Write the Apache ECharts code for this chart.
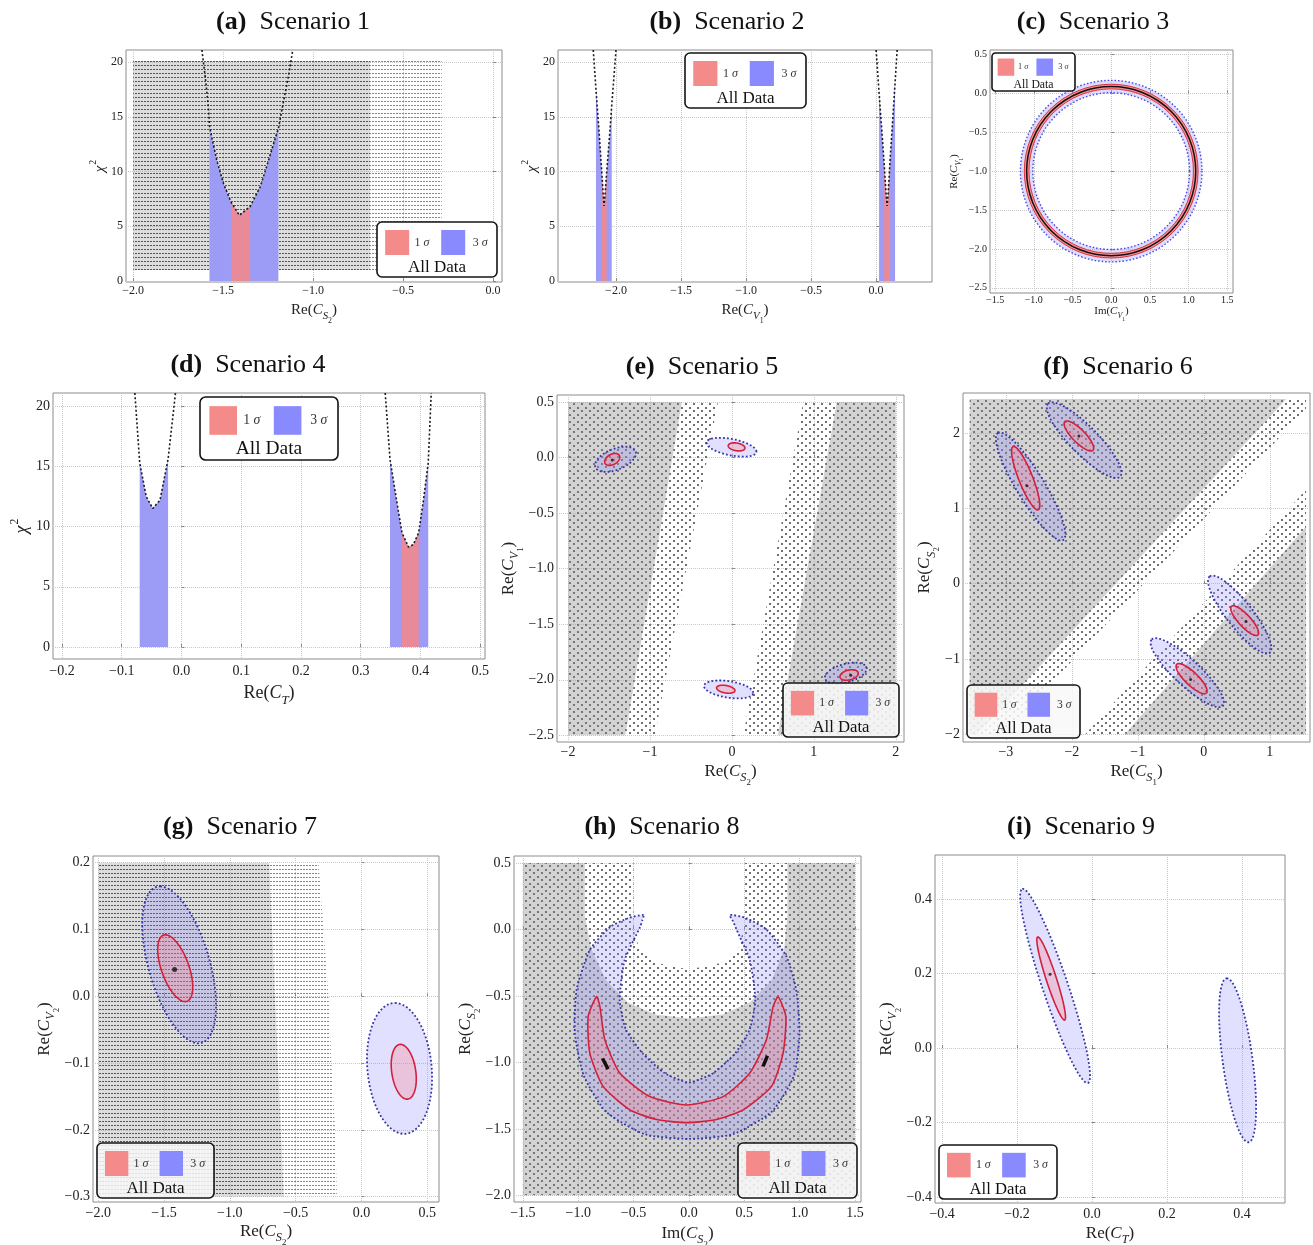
<!DOCTYPE html>
<html><head><meta charset="utf-8"><title>Scenarios 1-9</title>
<script src="https://cdn.jsdelivr.net/npm/echarts@6.0.0/dist/echarts.min.js"></script>
<style>html,body{margin:0;padding:0;background:#fff;}#chart{width:1313px;height:1245px;}</style>
</head><body><div id="chart"></div>
<script>
// ======================= DATA =======================
// (a) Scenario 1 : chi^2 vs Re(C_S2)
const aXTicks = [-2, -1.5, -1, -0.5, 0];
const aYTicks = [0, 5, 10, 15, 20];
const aChiCurve = [[-1.618,21.1],[-1.60,18.7],[-1.582,15.9],[-1.576,14.2],[-1.568,13.5],[-1.535,11.0],[-1.498,8.9],[-1.456,7.2],[-1.41,6.0],[-1.35,6.8],[-1.294,8.6],[-1.248,11.0],[-1.202,13.5],[-1.193,13.9],[-1.174,15.6],[-1.137,18.7],[-1.113,21.1]];
const aBand3 = [-1.576, -1.193];
const aBand1 = [-1.456, -1.35];
const aDenseRegion = [[-2.0,1.0],[-0.683,1.0],[-0.683,20.1],[-2.0,20.1]];
const aSparseRegion = [[-0.683,1.0],[-0.285,1.0],[-0.285,20.1],[-0.683,20.1]];

// (b) Scenario 2 : chi^2 vs Re(C_V1)
const bXTicks = [-2, -1.5, -1, -0.5, 0];
const bYTicks = [0, 5, 10, 15, 20];
const bChiLeft = [[-2.175,21.1],[-2.154,17.5],[-2.13,13.6],[-2.113,10.6],[-2.10,8.2],[-2.092,6.85],[-2.084,7.9],[-2.072,9.9],[-2.05,13.2],[-2.033,16.0],[-2.0,21.1]];
const bChiRight = [[0.0,21.1],[0.023,17.2],[0.045,13.6],[0.062,10.7],[0.077,8.0],[0.085,6.85],[0.093,8.0],[0.108,11.1],[0.125,14.2],[0.146,18.1],[0.162,21.1]];
const bBand3Left = [-2.154, -2.033];
const bBand1Left = [-2.113, -2.072];
const bBand3Right = [0.023, 0.146];
const bBand1Right = [0.062, 0.108];

// (c) Scenario 3 : Re(C_V1) vs Im(C_V1)
const cXTicks = [-1.5, -1, -0.5, 0, 0.5, 1, 1.5];
const cYTicks = [-2.5, -2, -1.5, -1, -0.5, 0, 0.5];
const cCenter = [0, -1.0];
const cBestRadius = 1.09;
const cRing1 = [1.06, 1.12];
const cRing3 = [1.01, 1.17];

// (d) Scenario 4 : chi^2 vs Re(C_T)
const dXTicks = [-0.2, -0.1, 0, 0.1, 0.2, 0.3, 0.4, 0.5];
const dYTicks = [0, 5, 10, 15, 20];
const dChiLeft = [[-0.078,21.1],[-0.0699,15.3],[-0.059,12.5],[-0.048,11.5],[-0.036,12.2],[-0.0224,15.6],[-0.01,21.1]];
const dChiRight = [[0.341,21.1],[0.349,15.6],[0.36,12.2],[0.369,9.5],[0.38,8.3],[0.388,8.5],[0.397,9.5],[0.405,12.2],[0.413,15.3],[0.418,21.1]];
const dBand3Left = [-0.0699, -0.0224];
const dBand3Right = [0.349, 0.413];
const dBand1Right = [0.369, 0.397];

// (e) Scenario 5 : Re(C_V1) vs Re(C_S2)
const eXTicks = [-2, -1, 0, 1, 2];
const eYTicks = [-2.5, -2, -1.5, -1, -0.5, 0, 0.5];
const eDenseLeft = [[-2,0.5],[-0.61,0.5],[-1.3,-2.5],[-2,-2.5]];
const eSparseLeft = [[-0.61,0.5],[-0.17,0.5],[-0.94,-2.5],[-1.3,-2.5]];
const eSparseRight = [[0.87,0.5],[1.28,0.5],[0.56,-2.5],[0.14,-2.5]];
const eDenseRight = [[1.28,0.5],[2,0.5],[2,-2.5],[0.56,-2.5]];
// ellipses: [cx, cy, ux, uy, vx, vy] (centre + two conjugate half-axis vectors)
const eEll3 = [[-1.42,-0.016,0.25,0.054,0,0.1],[-0.005,0.093,0.305,-0.04,0,0.075],[-0.04,-2.087,0.3,-0.03,0,0.075],[1.39,-1.94,0.255,0.04,0,0.085]];
const eEll1 = [[-1.46,-0.017,0.092,0.02,0,0.05],[0.057,0.096,0.102,-0.01,0,0.035],[-0.075,-2.085,0.112,-0.012,0,0.034],[1.43,-1.957,0.112,0.015,0,0.045]];
const eBest = [[-1.46,-0.022],[1.45,-1.96]];

// (f) Scenario 6 : Re(C_S2) vs Re(C_S1)
const fXTicks = [-3, -2, -1, 0, 1];
const fYTicks = [-2, -1, 0, 1, 2];
const fDenseUpper = [[-3.55,2.45],[1.25,2.45],[-3.44,-2.0],[-3.55,-2.0]];
const fSparseUpper = [[1.25,2.45],[1.55,2.45],[1.55,2.32],[-3.03,-2.0],[-3.44,-2.0]];
const fSparseLower = [[-1.8,-2.0],[1.55,1.25],[1.55,0.76],[-1.2,-2.0]];
const fDenseLower = [[-1.2,-2.0],[1.55,0.76],[1.55,-2.0]];
const fEll3 = [[-1.815,1.905,-0.545,0.485,0.151,0.13],[-2.625,1.29,-0.495,0.71,0.18,0.097],[0.545,-0.41,-0.455,0.507,0.155,0.106],[-0.25,-1.18,-0.54,0.44,0.134,0.126]];
const fEll1 = [[-1.893,1.96,-0.213,0.19,0.07,0.06],[-2.7,1.4,-0.19,0.42,0.098,0.034],[0.62,-0.49,-0.2,0.19,0.067,0.054],[-0.185,-1.26,-0.225,0.19,0.068,0.062]];
const fBest = [[-1.893,1.96],[-2.68,1.3],[0.64,-0.5],[-0.2,-1.27]];

// (g) Scenario 7 : Re(C_V2) vs Re(C_S2)
const gXTicks = [-2, -1.5, -1, -0.5, 0, 0.5];
const gYTicks = [-0.3, -0.2, -0.1, 0, 0.1, 0.2];
const gDenseRegion = [[-2,0.2],[-0.70,0.2],[-0.59,-0.3],[-2,-0.3]];
const gSparseRegion = [[-0.70,0.2],[-0.326,0.2],[-0.288,0.1],[-0.25,0.0],[-0.228,-0.1],[-0.2,-0.2],[-0.186,-0.3],[-0.59,-0.3]];
const gEll3 = [[-1.385,0.047,-0.145,0.1175,0.24,0],[0.29,-0.108,-0.035,0.098,0.245,0]];
const gEll1 = [[-1.415,0.042,-0.075,0.05,0.11,0],[0.322,-0.113,-0.025,0.041,0.092,0]];
const gBest = [[-1.42,0.04]];

// (h) Scenario 8 : Re(C_S2) vs Im(C_S2)
const hXTicks = [-1.5, -1, -0.5, 0, 0.5, 1, 1.5];
const hYTicks = [-2, -1.5, -1, -0.5, 0, 0.5];
const hFrameRegion = [[-1.5,0.5],[-1.5,-2],[1.5,-2],[1.5,0.5]];
const hUOuter = [[-0.94,0.5],[-0.94,0.1],[-0.88,-0.15],[-0.75,-0.38],[-0.55,-0.55],[-0.3,-0.64],[0,-0.67],[0.3,-0.64],[0.55,-0.55],[0.75,-0.38],[0.86,-0.15],[0.89,0.1],[0.89,0.5]];
const hUInner = [[-0.5,0.5],[-0.5,0.0],[-0.45,-0.14],[-0.3,-0.25],[0,-0.3],[0.3,-0.25],[0.45,-0.14],[0.49,0.0],[0.49,0.5]];
const hBand3 = [[-0.41,0.11],[-0.55,0.085],[-0.71,0.02],[-0.895,-0.154],[-1.015,-0.455],[-1.03,-0.78],[-0.95,-1.1],[-0.75,-1.37],[-0.4,-1.54],[0,-1.575],[0.4,-1.54],[0.75,-1.37],[0.95,-1.1],[1.0,-0.78],[0.97,-0.455],[0.88,-0.2],[0.70,0.0],[0.52,0.085],[0.37,0.11],
  [0.40,0.06],[0.43,0.0],[0.55,-0.23],[0.6,-0.53],[0.55,-0.75],[0.42,-0.93],[0.22,-1.08],[0,-1.15],[-0.22,-1.08],[-0.42,-0.93],[-0.57,-0.75],[-0.625,-0.53],[-0.58,-0.23],[-0.44,0.02],[-0.42,0.07]];
const hBand1 = [[-0.834,-0.505],[-0.91,-0.655],[-0.895,-0.93],[-0.775,-1.18],[-0.533,-1.357],[-0.29,-1.43],[-0.02,-1.453],[0.25,-1.43],[0.49,-1.357],[0.747,-1.18],[0.851,-0.93],[0.876,-0.655],[0.806,-0.505],
  [0.761,-0.58],[0.70,-0.83],[0.55,-1.08],[0.31,-1.257],[-0.02,-1.32],[-0.353,-1.257],[-0.624,-1.08],[-0.759,-0.83],[-0.804,-0.58]];
const hBest = [[-0.78,-0.97,-0.73,-1.05],[0.67,-1.03,0.71,-0.95]];

// (i) Scenario 9 : Re(C_V2) vs Re(C_T)
const iXTicks = [-0.4, -0.2, 0, 0.2, 0.4];
const iYTicks = [-0.4, -0.2, 0, 0.2, 0.4];
const iEll3 = [[-0.0985,0.1665,-0.0875,0.2605,0.0322,0.0108],[0.3885,-0.033,-0.0295,0.22,0.0396,0.0053]];
const iEll1 = [[-0.109,0.1865,-0.036,0.1115,0.0129,0.0042]];
const iBest = [[-0.112,0.198]];

// ======================= STYLE / LAYOUT =======================
const FONT = '"Liberation Serif","Times New Roman","DejaVu Serif",serif';
const LEG_RED = '#f58a8a', LEG_BLUE = '#8a8aff';
const BAND_BLUE = '#9c9cf6', BAND_RED = '#e88a98';
const S3 = {fill: 'rgba(135,135,255,0.25)', stroke: '#3434a6', lineWidth: 1.8, lineDash: [1.8, 2.2]};
const S1 = {fill: 'rgba(255,120,130,0.28)', stroke: '#d61f3a', lineWidth: 1.6};

const RE_CS2 = '{n|Re(}{i|C}{s|S}{ss|2}{n|)}';
const RE_CS1 = '{n|Re(}{i|C}{s|S}{ss|1}{n|)}';
const RE_CV1 = '{n|Re(}{i|C}{s|V}{ss|1}{n|)}';
const RE_CV2 = '{n|Re(}{i|C}{s|V}{ss|2}{n|)}';
const IM_CV1 = '{n|Im(}{i|C}{s|V}{ss|1}{n|)}';
const IM_CS2 = '{n|Im(}{i|C}{s|S}{ss|2}{n|)}';
const RE_CT = '{n|Re(}{i|C}{s|T}{n|)}';
const CHI = '{i|χ}{sup|2}';

const PANELS = [
  {box:[126,50,376,232], xr:[-2.04,0.05], yr:[-0.09,21.1], xt:aXTicks, yt:aYTicks, xd:1, yd:0, lfs:12, xm:3, ym:3, nfs:15, xn:RE_CS2, yn:CHI, xg:17, yg:17, title:['(a)','Scenario 1'], tc:[293,22], leg:[377,222,120,55], legBg:'#ffffff'},
  {box:[558,50,374,232], xr:[-2.446,0.43], yr:[-0.09,21.1], xt:bXTicks, yt:bYTicks, xd:1, yd:0, lfs:12, xm:3, ym:3, nfs:15, xn:RE_CV1, yn:CHI, xg:17, yg:14, title:['(b)','Scenario 2'], tc:[727,22], leg:[685,53,121,55], legBg:'#ffffff'},
  {box:[990,50,243,243], xr:[-1.566,1.574], yr:[-2.567,0.557], xt:cXTicks, yt:cYTicks, xd:1, yd:1, lfs:10, xm:2, ym:3, nfs:11, xn:IM_CV1, yn:RE_CV1, xg:10, yg:21, title:['(c)','Scenario 3'], tc:[1093,22], leg:[992,53,83,38], legBg:'#ffffff'},
  {box:[53,393,432,266], xr:[-0.215,0.508], yr:[-1.0,21.1], xt:dXTicks, yt:dYTicks, xd:1, yd:0, lfs:14, xm:5, ym:3, nfs:18, xn:RE_CT, yn:CHI, xg:21, yg:22, title:['(d)','Scenario 4'], tc:[248,365], leg:[200,397,138,63], legBg:'#ffffff'},
  {box:[557,395,347,347], xr:[-2.134,2.1], yr:[-2.56,0.563], xt:eXTicks, yt:eYTicks, xd:0, yd:1, lfs:14, xm:3, ym:3, nfs:17, xn:RE_CS2, yn:RE_CV1, xg:16.5, yg:27.5, title:['(e)','Scenario 5'], tc:[702,367], leg:[783,683,116,54], legBg:'rgba(248,248,248,0.85)'},
  {box:[963,393,347,349], xr:[-3.65,1.61], yr:[-2.1,2.53], xt:fXTicks, yt:fYTicks, xd:0, yd:0, lfs:14, xm:3, ym:3, nfs:17, xn:RE_CS1, yn:RE_CS2, xg:16.5, yg:16.5, title:['(f)','Scenario 6'], tc:[1118,367], leg:[967,685,113,53], legBg:'rgba(248,248,248,0.85)'},
  {box:[93,856,346,346], xr:[-2.04,0.59], yr:[-0.308,0.21], xt:gXTicks, yt:gYTicks, xd:1, yd:1, lfs:14, xm:4, ym:3, nfs:17, xn:RE_CS2, yn:RE_CV2, xg:16.5, yg:28.5, title:['(g)','Scenario 7'], tc:[240,827], leg:[97,1143,117,55], legBg:'rgba(248,248,248,0.85)'},
  {box:[514,856,347,346], xr:[-1.58,1.555], yr:[-2.05,0.553], xt:hXTicks, yt:hYTicks, xd:1, yd:1, lfs:14, xm:4, ym:3, nfs:17, xn:IM_CS2, yn:RE_CS2, xg:18.5, yg:25.5, title:['(h)','Scenario 8'], tc:[662,827], leg:[738,1143,119,55], legBg:'rgba(248,248,248,0.85)'},
  {box:[935,855,350,348], xr:[-0.419,0.515], yr:[-0.416,0.518], xt:iXTicks, yt:iYTicks, xd:1, yd:1, lfs:14, xm:4, ym:3, nfs:17, xn:RE_CT, yn:RE_CV2, xg:17.5, yg:28.5, title:['(i)','Scenario 9'], tc:[1081,827], leg:[939,1145,118,54], legBg:'#ffffff'}
];

// ======================= HELPERS =======================
function mkPattern(w, h, bg, dots, color) {
  const c = document.createElement('canvas');
  c.width = w; c.height = h;
  const g = c.getContext('2d');
  if (bg) { g.fillStyle = bg; g.fillRect(0, 0, w, h); }
  g.fillStyle = color;
  dots.forEach(d => g.fillRect(d[0], d[1], d[2], d[3]));
  return {image: c, repeat: 'repeat'};
}
const PAT = {
  gridDense: mkPattern(3, 4, 'rgba(150,150,150,0.32)', [[0,1,2,1]], '#555'),
  gridSparse: mkPattern(3, 4, null, [[0,1,2,1]], '#888'),
  hexDense: mkPattern(8, 7, 'rgba(150,150,150,0.42)', [[1,1,2,2],[5,4,2,2]], '#777'),
  hexSparse: mkPattern(8, 7, null, [[1,1,2,2],[5,4,2,2]], '#707070')
};

function fmt(dec) { return v => (v < -1e-9 ? '\u2212' : '') + Math.abs(v).toFixed(dec); }

function nameRich(F) {
  const base = {fontFamily: FONT, color: '#222', verticalAlign: 'top'};
  return {
    n: Object.assign({}, base, {fontSize: F, padding: [0.25 * F, 0, 0, 0]}),
    i: Object.assign({}, base, {fontSize: F, fontStyle: 'italic', padding: [0.25 * F, 0, 0, 0]}),
    s: Object.assign({}, base, {fontSize: 0.72 * F, fontStyle: 'italic', padding: [0.78 * F, 0, 0, 0]}),
    ss: Object.assign({}, base, {fontSize: 0.52 * F, padding: [1.18 * F, 0, 0, 0]}),
    sup: Object.assign({}, base, {fontSize: 0.65 * F, padding: [0, 0, 0, 1]})
  };
}

function polySeries(gi, pts, style, smooth) {
  return {type: 'custom', xAxisIndex: gi, yAxisIndex: gi, data: pts, silent: true, animation: false, clip: true,
    renderItem: (params, api) => {
      if (params.dataIndex !== 0) return null;
      return {type: 'polygon', shape: {points: pts.map(p => api.coord(p)), smooth: smooth || 0}, style: style};
    }};
}
function ellipseSeries(gi, list, style) {
  return {type: 'custom', xAxisIndex: gi, yAxisIndex: gi, data: list, silent: true, animation: false, clip: true,
    renderItem: (params, api) => {
      const e = list[params.dataIndex];
      const pts = [];
      for (let k = 0; k < 120; k++) {
        const t = k / 120 * 2 * Math.PI;
        pts.push(api.coord([e[0] + e[2] * Math.cos(t) + e[4] * Math.sin(t), e[1] + e[3] * Math.cos(t) + e[5] * Math.sin(t)]));
      }
      return {type: 'polygon', shape: {points: pts}, style: style};
    }};
}
function ringSeries(gi, center, r0, r, style) {
  return {type: 'custom', xAxisIndex: gi, yAxisIndex: gi, data: [center], silent: true, animation: false, clip: true,
    renderItem: (params, api) => {
      const c = api.coord(center); const sz = api.size([1, 1]); const k = (sz[0] + sz[1]) / 2;
      return {type: 'ring', shape: {cx: c[0], cy: c[1], r: r * k, r0: r0 * k}, style: style};
    }};
}
function circleSeries(gi, center, r, style) {
  return {type: 'custom', xAxisIndex: gi, yAxisIndex: gi, data: [center], silent: true, animation: false, clip: true,
    renderItem: (params, api) => {
      const c = api.coord(center); const sz = api.size([1, 1]); const k = (sz[0] + sz[1]) / 2;
      return {type: 'circle', shape: {cx: c[0], cy: c[1], r: r * k}, style: Object.assign({fill: 'none'}, style)};
    }};
}
function segSeries(gi, list, style) {
  return {type: 'custom', xAxisIndex: gi, yAxisIndex: gi, data: list, silent: true, animation: false, clip: true,
    renderItem: (params, api) => {
      const s = list[params.dataIndex]; const a = api.coord([s[0], s[1]]); const b = api.coord([s[2], s[3]]);
      return {type: 'line', shape: {x1: a[0], y1: a[1], x2: b[0], y2: b[1]}, style: style};
    }};
}
function bandSeries(gi, curve, range, color) {
  const pts = curve.filter(p => p[0] >= range[0] - 1e-9 && p[0] <= range[1] + 1e-9);
  return {type: 'line', xAxisIndex: gi, yAxisIndex: gi, data: pts, symbol: 'none', silent: true, animation: false,
    lineStyle: {width: 0, opacity: 0}, areaStyle: {color: color, opacity: 1, origin: 'auto'}};
}
function curveSeries(gi, curve) {
  return {type: 'line', xAxisIndex: gi, yAxisIndex: gi, data: curve, symbol: 'none', silent: true, animation: false, z: 5,
    lineStyle: {color: '#1a1a1a', width: 1.6, type: [2, 2.2]}};
}
function dotSeries(gi, pts, size) {
  return {type: 'scatter', xAxisIndex: gi, yAxisIndex: gi, data: pts, symbolSize: size || 4, silent: true, animation: false, z: 6,
    itemStyle: {color: '#111'}};
}
function legendEl(b, bg) {
  const x = b[0], y = b[1], w = b[2], h = b[3], s = h / 55;
  const Z = 100;
  const sig = (t, cx) => ({type: 'text', x: cx, y: 0.375 * h, z: Z + 2, style: {text: t + ' {i|σ}',
    rich: {i: {fontStyle: 'italic', fontFamily: FONT, fontSize: 12 * s, fill: '#333'}},
    fontFamily: FONT, fontSize: 12 * s, fill: '#333', align: 'center', verticalAlign: 'middle'}});
  return {type: 'group', x: x, y: y, z: Z, children: [
    {type: 'rect', z: Z, shape: {x: 0, y: 0, width: w, height: h, r: 5 * s}, style: {fill: bg, stroke: '#151515', lineWidth: 1.6}},
    {type: 'rect', z: Z + 1, shape: {x: 0.068 * w, y: 0.145 * h, width: 0.2 * w, height: 0.455 * h}, style: {fill: LEG_RED}},
    {type: 'rect', z: Z + 1, shape: {x: 0.535 * w, y: 0.145 * h, width: 0.2 * w, height: 0.455 * h}, style: {fill: LEG_BLUE}},
    sig('1', 0.375 * w), sig('3', 0.86 * w),
    {type: 'text', z: Z + 2, x: 0.5 * w, y: 0.83 * h, style: {text: 'All Data', fontFamily: FONT, fontSize: 17 * s, fill: '#111', align: 'center', verticalAlign: 'middle'}}
  ]};
}

// ======================= BUILD OPTION =======================
const grid = [], xAxis = [], yAxis = [], graphic = [];
PANELS.forEach((P, i) => {
  grid.push({left: P.box[0], top: P.box[1], width: P.box[2], height: P.box[3], show: true,
    borderColor: '#8c8c8c', borderWidth: 1, backgroundColor: 'rgba(0,0,0,0)', containLabel: false, outerBoundsMode: 'none'});
  const common = (ticks, dec, margin) => ({
    type: 'value', gridIndex: i,
    axisLine: {show: false},
    axisTick: {show: true, inside: true, length: 3, customValues: ticks, lineStyle: {color: '#888'}},
    axisLabel: {customValues: ticks, formatter: fmt(dec), fontFamily: FONT, fontSize: P.lfs, color: '#222', margin: margin},
    splitLine: {show: true, lineStyle: {color: '#c8c8c8', type: 'dotted', width: 1}},
    nameLocation: 'middle',
    nameTextStyle: {rich: nameRich(P.nfs), fontFamily: FONT, fontSize: P.nfs, color: '#222'}
  });
  xAxis.push(Object.assign(common(P.xt, P.xd, P.xm), {min: P.xr[0], max: P.xr[1], name: P.xn, nameGap: P.xg}));
  yAxis.push(Object.assign(common(P.yt, P.yd, P.ym), {min: P.yr[0], max: P.yr[1], name: P.yn, nameGap: P.yg, nameRotate: 90}));
  graphic.push({type: 'text', x: P.tc[0], y: P.tc[1], z: 100, style: {
    text: '{b|' + P.title[0] + '}  ' + P.title[1],
    rich: {b: {fontWeight: 'bold', fontFamily: FONT, fontSize: 26, fill: '#111'}},
    fontFamily: FONT, fontSize: 26, fill: '#111', align: 'center', verticalAlign: 'middle'}});
  graphic.push(legendEl(P.leg, P.legBg));
});

const series = [];
// (a)
series.push(bandSeries(0, aChiCurve, aBand3, BAND_BLUE));
series.push(bandSeries(0, aChiCurve, aBand1, BAND_RED));
series.push(polySeries(0, aDenseRegion, {fill: PAT.gridDense}));
series.push(polySeries(0, aSparseRegion, {fill: PAT.gridSparse}));
series.push(curveSeries(0, aChiCurve));
// (b)
series.push(bandSeries(1, bChiLeft, bBand3Left, BAND_BLUE));
series.push(bandSeries(1, bChiLeft, bBand1Left, BAND_RED));
series.push(bandSeries(1, bChiRight, bBand3Right, BAND_BLUE));
series.push(bandSeries(1, bChiRight, bBand1Right, BAND_RED));
series.push(curveSeries(1, bChiLeft));
series.push(curveSeries(1, bChiRight));
// (c)
series.push(ringSeries(2, cCenter, cRing3[0], cRing3[1], {fill: 'rgba(140,140,255,0.3)'}));
series.push(ringSeries(2, cCenter, cRing1[0], cRing1[1], {fill: '#f39494'}));
series.push(circleSeries(2, cCenter, cRing1[0], {stroke: '#e03040', lineWidth: 1}));
series.push(circleSeries(2, cCenter, cRing1[1], {stroke: '#e03040', lineWidth: 1}));
series.push(circleSeries(2, cCenter, cRing3[0], {stroke: '#4646ee', lineWidth: 1.4, lineDash: [1.5, 2]}));
series.push(circleSeries(2, cCenter, cRing3[1], {stroke: '#4646ee', lineWidth: 1.4, lineDash: [1.5, 2]}));
series.push(circleSeries(2, cCenter, cBestRadius, {stroke: '#111', lineWidth: 1.5}));
// (d)
series.push(bandSeries(3, dChiLeft, dBand3Left, BAND_BLUE));
series.push(bandSeries(3, dChiRight, dBand3Right, BAND_BLUE));
series.push(bandSeries(3, dChiRight, dBand1Right, BAND_RED));
series.push(curveSeries(3, dChiLeft));
series.push(curveSeries(3, dChiRight));
// (e)
series.push(polySeries(4, eDenseLeft, {fill: PAT.hexDense}));
series.push(polySeries(4, eSparseLeft, {fill: PAT.hexSparse}));
series.push(polySeries(4, eSparseRight, {fill: PAT.hexSparse}));
series.push(polySeries(4, eDenseRight, {fill: PAT.hexDense}));
series.push(ellipseSeries(4, eEll3, S3));
series.push(ellipseSeries(4, eEll1, S1));
series.push(dotSeries(4, eBest, 3));
// (f)
series.push(polySeries(5, fDenseUpper, {fill: PAT.hexDense}));
series.push(polySeries(5, fSparseUpper, {fill: PAT.hexSparse}));
series.push(polySeries(5, fSparseLower, {fill: PAT.hexSparse}));
series.push(polySeries(5, fDenseLower, {fill: PAT.hexDense}));
series.push(ellipseSeries(5, fEll3, S3));
series.push(ellipseSeries(5, fEll1, S1));
series.push(dotSeries(5, fBest, 3));
// (g)
series.push(polySeries(6, gDenseRegion, {fill: PAT.gridDense}));
series.push(polySeries(6, gSparseRegion, {fill: PAT.gridSparse}));
series.push(ellipseSeries(6, gEll3, S3));
series.push(ellipseSeries(6, gEll1, S1));
series.push(dotSeries(6, gBest, 5));
// (h)
series.push(polySeries(7, hFrameRegion.concat(hUOuter.slice().reverse()), {fill: PAT.hexDense}));
series.push(polySeries(7, hUOuter.concat(hUInner.slice().reverse()), {fill: PAT.hexSparse}));
series.push(polySeries(7, hBand3, S3, 0.2));
series.push(polySeries(7, hBand1, S1, 0.2));
series.push(segSeries(7, hBest, {stroke: '#111', lineWidth: 3.5}));
// (i)
series.push(ellipseSeries(8, iEll3, S3));
series.push(ellipseSeries(8, iEll1, S1));
series.push(dotSeries(8, iBest, 3));

const chart = echarts.init(document.getElementById('chart'), null, {renderer: 'canvas'});
chart.setOption({animation: false, backgroundColor: '#ffffff', grid: grid, xAxis: xAxis, yAxis: yAxis, series: series, graphic: graphic});
</script></body></html>
